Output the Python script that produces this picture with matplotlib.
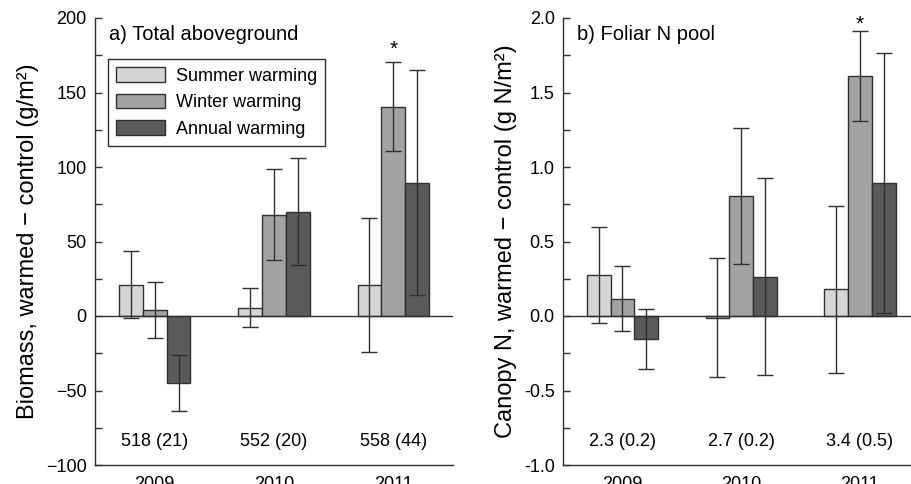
import matplotlib
matplotlib.use("Agg")
import matplotlib.pyplot as plt
import numpy as np
from matplotlib.ticker import MultipleLocator, FormatStrFormatter

plt.rcParams['font.family'] = ['Liberation Sans', 'DejaVu Sans']

years = ['2009', '2010', '2011']
treatments = ['Summer warming', 'Winter warming', 'Annual warming']
colors = ['#d6d6d6', '#a3a3a3', '#5a5a5a']

# Panel a: biomass difference (g/m2)
biomass_mean = {
    'Summer warming': [21, 5.5, 21],
    'Winter warming': [4, 68, 140.5],
    'Annual warming': [-45, 70, 89.5],
}
biomass_err = {
    'Summer warming': [22.5, 13, 45],
    'Winter warming': [18.5, 30.5, 30],
    'Annual warming': [18.5, 36, 75.5],
}
biomass_control = ['518 (21)', '552 (20)', '558 (44)']

# Panel b: canopy N difference (g N/m2)
canopyN_mean = {
    'Summer warming': [0.275, -0.012, 0.18],
    'Winter warming': [0.117, 0.806, 1.61],
    'Annual warming': [-0.155, 0.265, 0.893],
}
canopyN_err = {
    'Summer warming': [0.325, 0.40, 0.56],
    'Winter warming': [0.217, 0.457, 0.30],
    'Annual warming': [0.20, 0.66, 0.87],
}
canopyN_control = ['2.3 (0.2)', '2.7 (0.2)', '3.4 (0.5)']

fig = plt.figure(figsize=(9.11, 4.84), dpi=100)
axA = fig.add_axes([95/911, 19/484, 358/911, 447/484])
axB = fig.add_axes([563/911, 19/484, 348/911, 447/484])

dark = '#303030'
x = np.arange(len(years))
w = 0.2

def draw(ax, means, errs, ylim, major, minor, ylabel, title, controls, ctrl_y, star_y, xmax, legend=False):
    for i, t in enumerate(treatments):
        ax.bar(x + (i - 1) * w, means[t], width=w, color=colors[i],
               edgecolor=dark, linewidth=1.0, label=t, zorder=2)
        ax.errorbar(x + (i - 1) * w, means[t], yerr=errs[t], fmt='none',
                    ecolor=dark, elinewidth=1.0, capsize=6, capthick=1.0, zorder=3)
    ax.axhline(0, color=dark, lw=1.0, zorder=4)
    ax.set_ylim(*ylim)
    ax.set_xlim(-0.5, xmax)
    ax.yaxis.set_major_locator(MultipleLocator(major))
    ax.yaxis.set_minor_locator(MultipleLocator(minor))
    ax.tick_params(axis='y', which='both', direction='in', length=5, width=1.0,
                   color=dark, labelsize=13, pad=6)
    ax.tick_params(axis='x', which='both', length=0, labelsize=13, pad=8)
    ax.set_xticks(x)
    ax.set_xticklabels(years)
    for s in ['top', 'right']:
        ax.spines[s].set_visible(False)
    for s in ['left', 'bottom']:
        ax.spines[s].set_color(dark)
        ax.spines[s].set_linewidth(1.0)
    ax.set_ylabel(ylabel, fontsize=17, labelpad=5)
    ax.text(0.04, 0.985, title, transform=ax.transAxes, fontsize=14.5,
            ha='left', va='top')
    for xi, c in zip(x, controls):
        ax.text(xi, ctrl_y, c, ha='center', va='center', fontsize=13)
    ax.text(2, star_y, '*', ha='center', va='center', fontsize=15)
    if legend:
        ax.legend(loc='upper left', bbox_to_anchor=(0.037, 0.908), fontsize=13,
                  frameon=True, fancybox=False, edgecolor=dark, framealpha=1,
                  handlelength=2.7, handleheight=0.85, borderpad=0.45,
                  labelspacing=0.5, handletextpad=0.6, borderaxespad=0)
        ax.get_legend().get_frame().set_linewidth(1.0)

draw(axA, biomass_mean, biomass_err, (-100, 200), 50, 25,
     'Biomass, warmed \u2212 control (g/m\u00b2)', 'a) Total aboveground',
     biomass_control, -84, 179, 2.5, legend=True)
draw(axB, canopyN_mean, canopyN_err, (-1.0, 2.0), 0.5, 0.25,
     'Canopy N, warmed \u2212 control (g N/m\u00b2)', 'b) Foliar N pool',
     canopyN_control, -0.84, 1.96, 2.43)
axB.yaxis.set_major_formatter(FormatStrFormatter('%.1f'))

fig.savefig('out.png', dpi=100)
